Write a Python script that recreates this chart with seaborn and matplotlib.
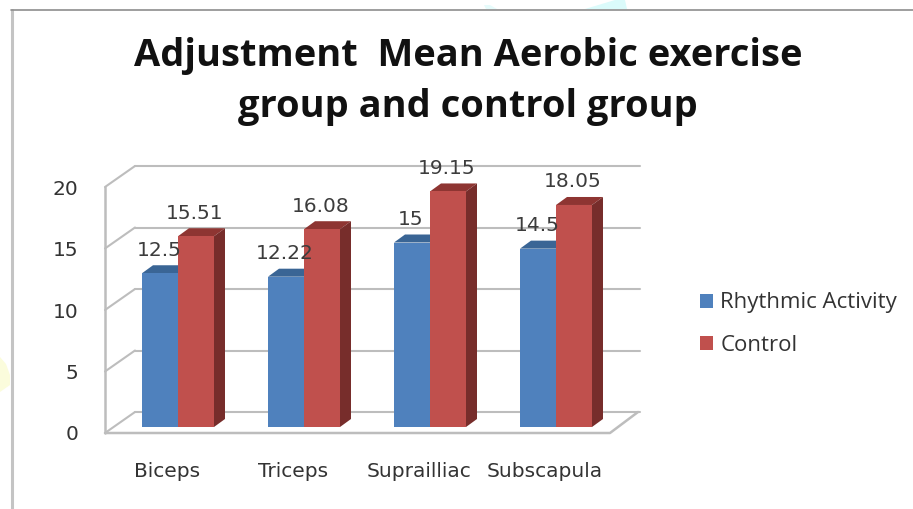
import pandas as pd
import matplotlib
matplotlib.use('Agg')
import matplotlib.pyplot as plt
import seaborn as sns
from matplotlib.patches import Polygon
from matplotlib.transforms import Affine2D, IdentityTransform

# Values
muscles = ['Biceps', 'Triceps', 'Suprailliac', 'Subscapula']
rhythmic = [12.5, 12.22, 15, 14.5]
control = [15.51, 16.08, 19.15, 18.05]
series_names = ['Rhythmic Activity', 'Control']
y_ticks = [0, 5, 10, 15, 20]

W, H = 913, 509

sns.set_style('white')
plt.rcParams['font.family'] = ['DejaVu Sans']

df = pd.DataFrame({
    'muscle': muscles * 2,
    'group': [series_names[0]] * 4 + [series_names[1]] * 4,
    'value': rhythmic + control,
})

fig = plt.figure(figsize=(W / 100, H / 100), dpi=100)
# front plane of the fake 3D box, in pixels
left, right, top, bottom = 105, 610, 187, 433
ax = fig.add_axes([left / W, 1 - bottom / H, (right - left) / W, (bottom - top) / H])

sns.barplot(data=df, x='muscle', y='value', hue='group',
            palette=['#4F81BD', '#C0504D'], saturation=1,
            width=72 / 126, gap=0, linewidth=0, ax=ax, zorder=3)

ax.set_xlim((left - 178) / 126, (right - 178) / 126)
ax.set_ylim(0, 20)
ax.set_xlabel('')
ax.set_ylabel('')
for s in ax.spines.values():
    s.set_visible(False)

ax.set_yticks(y_ticks)
ax.tick_params(axis='y', length=0, pad=19, labelsize=14.5, labelcolor='#333333')
ax.tick_params(axis='x', length=0, pad=21, labelsize=14.5, labelcolor='#333333')
shift = Affine2D().translate(-11, 0)
for lab in ax.get_xticklabels():
    lab.set_transform(lab.get_transform() + shift)

# depth of the box and of the bars, pixels
box_dx, box_dy = 30, 21
bar_dx, bar_dy = 11, 8
lift = 6
grid = '#BDBDBD'

box_back = ax.transData + Affine2D().translate(box_dx, box_dy)
xl, xr = ax.get_xlim()
for v in y_ticks:
    ax.plot([xl, xr], [v, v], color=grid, lw=1.5, transform=box_back, clip_on=False, zorder=1)
    x0, y0 = ax.transData.transform((xl, v))
    fig.add_artist(plt.Line2D([x0, x0 + box_dx], [y0, y0 + box_dy], color=grid, lw=1.5,
                              transform=IdentityTransform(), zorder=0.5))

# front edges of the floor and the left wall
x0, y0 = ax.transData.transform((xl, 0))
x1, y1 = ax.transData.transform((xr, 0))
x2, y2 = ax.transData.transform((xl, 20))
fig.add_artist(plt.Line2D([x0, x1, x1 + box_dx - 2], [y0, y1, y1 + box_dy], color=grid, lw=1.8,
                          transform=IdentityTransform(), zorder=0.5))
fig.add_artist(plt.Line2D([x0, x2], [y0, y2], color=grid, lw=1.8,
                          transform=IdentityTransform(), zorder=0.5))

# bars: lift off the floor, then add top and side faces
bars_up = ax.transData + Affine2D().translate(0, lift)
faces = {0: ('#3A6595', '#33557E'), 1: ('#8E3532', '#772D2B')}
for i, cont in enumerate(ax.containers):
    top_col, side_col = faces[i]
    for bar in cont:
        bar.set_transform(bars_up)
        bar.set_clip_on(False)
        bx, bw, bh = bar.get_x(), bar.get_width(), bar.get_height()
        (a, b) = ax.transData.transform((bx, bh))
        (c, d) = ax.transData.transform((bx + bw, 0))
        b += lift
        d += lift
        ax.add_patch(Polygon([(a, b), (c, b), (c + bar_dx, b + bar_dy), (a + bar_dx, b + bar_dy)],
                             closed=True, fc=top_col, ec='none', transform=IdentityTransform(),
                             clip_on=False, zorder=2))
        ax.add_patch(Polygon([(c, d), (c + bar_dx, d + bar_dy), (c + bar_dx, b + bar_dy), (c, b)],
                             closed=True, fc=side_col, ec='none', transform=IdentityTransform(),
                             clip_on=False, zorder=2))
        ax.annotate(f'{bh:g}', xy=(bx + bw / 2, bh), xycoords='data',
                    xytext=(-1, lift + 23), textcoords='offset pixels',
                    ha='center', va='center', fontsize=14.5, color='#3C3C3C', zorder=5)

# legend
handles, labels = ax.get_legend_handles_labels()
ax.legend(handles, labels, loc='center left', bbox_to_anchor=(700 / W, 1 - 324 / H),
          bbox_transform=fig.transFigure, frameon=False, prop={'family': 'Open Sans', 'size': 16},
          labelcolor='#333333', handlelength=0.6, handleheight=0.6, handletextpad=0.32,
          labelspacing=0.95, borderpad=0, borderaxespad=0)

fig.text(468 / W, 1 - 56 / H, 'Adjustment  Mean Aerobic exercise', family='Open Sans', weight='bold',
         fontsize=27.4, ha='center', va='center', color='#111111')
fig.text(468 / W, 1 - 107 / H, 'group and control group', family='Open Sans', weight='bold',
         fontsize=27.4, ha='center', va='center', color='#111111')

# outer frame of the screenshot
fig.add_artist(plt.Line2D([12 / W, 12 / W], [0, 1 - 10 / H], color='#C4C4C4', lw=2.2))
fig.add_artist(plt.Line2D([11 / W, 1], [1 - 10 / H, 1 - 10 / H], color='#8E8E8E', lw=1.2))

# faint watermark remains outside the frame
px = lambda pts: [(x / W, 1 - y / H) for x, y in pts]
fig.add_artist(Polygon(px([(585, 9), (615, 0), (625, 0), (627, 9)]), fc='#DBFBFB', ec='none',
                       transform=fig.transFigure, zorder=0))
fig.add_artist(Polygon(px([(484, 5), (490, 5), (497, 9), (486, 9)]), fc='#E6FBFB', ec='none',
                       transform=fig.transFigure, zorder=0))
fig.add_artist(Polygon(px([(0, 357), (6, 364), (10, 375), (10, 385), (0, 392)]), fc='#FBFCDC', ec='none',
                       transform=fig.transFigure, zorder=0))

fig.savefig('out.png', dpi=100)
